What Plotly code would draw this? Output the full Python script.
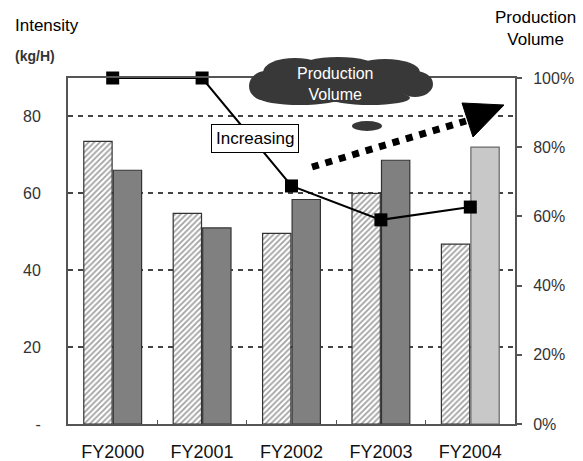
import plotly.graph_objects as go

categories = ["FY2000", "FY2001", "FY2002", "FY2003", "FY2004"]
intensity_a = [73.5, 54.8, 49.6, 60.0, 46.8]
intensity_b = [66.0, 51.0, 58.4, 68.6, 72.0]
production_pct = [100, 100, 68.8, 59.0, 62.7]
left_ticks = [0, 20, 40, 60, 80]
left_ticktext = ["-", "20", "40", "60", "80"]
right_ticks = [0, 20, 40, 60, 80, 100]
right_ticktext = ["0%", "20%", "40%", "60%", "80%", "100%"]

b_colors = ["#808080"] * 4 + ["#c8c8c8"]
b_lines = ["#333333"] * 4 + ["#666666"]

fig = go.Figure()
fig.add_trace(go.Bar(
    x=categories, y=intensity_a, yaxis="y",
    marker=dict(color="white", line=dict(color="#333", width=1.2),
                pattern=dict(shape="/", fgcolor="#444", bgcolor="white", size=4, solidity=0.45)),
    showlegend=False))
fig.add_trace(go.Bar(
    x=categories, y=intensity_b, yaxis="y",
    marker=dict(color=b_colors, line=dict(color=b_lines, width=1.2)),
    showlegend=False))
fig.add_trace(go.Scatter(
    x=categories, y=production_pct, yaxis="y2", mode="lines+markers",
    line=dict(color="black", width=2),
    marker=dict(symbol="square", size=13, color="black"),
    showlegend=False, cliponaxis=False))

tickfont = dict(family="Liberation Sans", size=16, color="#333")

fig.update_layout(
    width=583, height=461,
    margin=dict(l=68, r=68, t=78, b=37),
    paper_bgcolor="white", plot_bgcolor="white",
    barmode="group", bargap=0.34, bargroupgap=0.04,
    xaxis=dict(showline=True, linecolor="#555", linewidth=2, mirror=True,
               ticks="inside", tickson="boundaries", ticklen=4, tickcolor="#555",
               tickfont=dict(family="Liberation Sans", size=18, color="#111"),
               ticklabelstandoff=10, showgrid=False, automargin=False),
    yaxis=dict(range=[0, 90], tickvals=left_ticks, ticktext=left_ticktext,
               showline=True, linecolor="#555", linewidth=2, mirror=True,
               showgrid=True, gridcolor="#444", griddash="5px,5px", gridwidth=2,
               ticks="outside", ticklen=22, tickcolor="rgba(0,0,0,0)",
               tickfont=tickfont, zeroline=False, automargin=False),
    yaxis2=dict(range=[0, 100], overlaying="y", side="right",
                tickvals=right_ticks, ticktext=right_ticktext,
                showgrid=False, zeroline=False, showline=False,
                ticks="outside", ticklen=6, tickcolor="#555", tickwidth=1.5,
                ticklabelstandoff=8, tickfont=tickfont, automargin=False),
)

def px(x):
    return (x - 68) / 447

def py(y):
    return (424 - y) / 346

shapes = []
# cloud made of ellipses
cloud = [(266, 86, 17, 15), (295, 72, 32, 14), (338, 68, 40, 11), (385, 72, 35, 13),
         (415, 84, 18, 13), (338, 84, 82, 18), (300, 98, 40, 7), (370, 98, 40, 7)]
for cx, cy, rx, ry in cloud:
    shapes.append(dict(type="circle", xref="paper", yref="paper",
                       x0=px(cx - rx), x1=px(cx + rx), y0=py(cy + ry), y1=py(cy - ry),
                       fillcolor="#383838", line=dict(width=0), layer="above"))
# small ellipse
shapes.append(dict(type="circle", xref="paper", yref="paper",
                   x0=px(352), x1=px(382), y0=py(131), y1=py(121),
                   fillcolor="#383838", line=dict(width=0), layer="above"))
# dotted arrow
shapes.append(dict(type="line", xref="paper", yref="paper",
                   x0=px(312), y0=py(167), x1=px(466), y1=py(121),
                   line=dict(color="black", width=7, dash="dot"), layer="above"))
shapes.append(dict(type="path", xref="paper", yref="paper",
                   path=f"M {px(462)} {py(103)} L {px(504)} {py(105)} L {px(473)} {py(137)} Z",
                   fillcolor="black", line=dict(color="black", width=1), layer="above"))
fig.update_layout(shapes=shapes)

fig.add_annotation(xref="paper", yref="paper", x=px(335), y=py(84),
                   xanchor="center", yanchor="middle",
                   text="Production<br>Volume", showarrow=False,
                   font=dict(family="Liberation Sans", size=16, color="white"))
fig.add_annotation(xref="paper", yref="paper", x=px(255), y=py(138),
                   xanchor="center", yanchor="middle",
                   text="Increasing", showarrow=False, bgcolor="white",
                   bordercolor="black", borderwidth=1, borderpad=4,
                   font=dict(family="Liberation Sans", size=17, color="black"))
fig.add_annotation(xref="paper", yref="paper", x=px(13), y=py(26),
                   xanchor="left", yanchor="middle",
                   text="Intensity", showarrow=False,
                   font=dict(family="Liberation Sans", size=17, color="black"))
fig.add_annotation(xref="paper", yref="paper", x=px(13), y=py(56),
                   xanchor="left", yanchor="middle",
                   text="<b>(kg/H)</b>", showarrow=False,
                   font=dict(family="Liberation Sans", size=14, color="#333"))
fig.add_annotation(xref="paper", yref="paper", x=px(535), y=py(28),
                   xanchor="center", yanchor="middle",
                   text="Production<br>Volume", showarrow=False,
                   font=dict(family="Liberation Sans", size=17, color="black"))

fig.write_html("out.html", config={"displayModeBar": False},
               post_script="document.body.style.margin='0';document.body.style.overflow='hidden';")
